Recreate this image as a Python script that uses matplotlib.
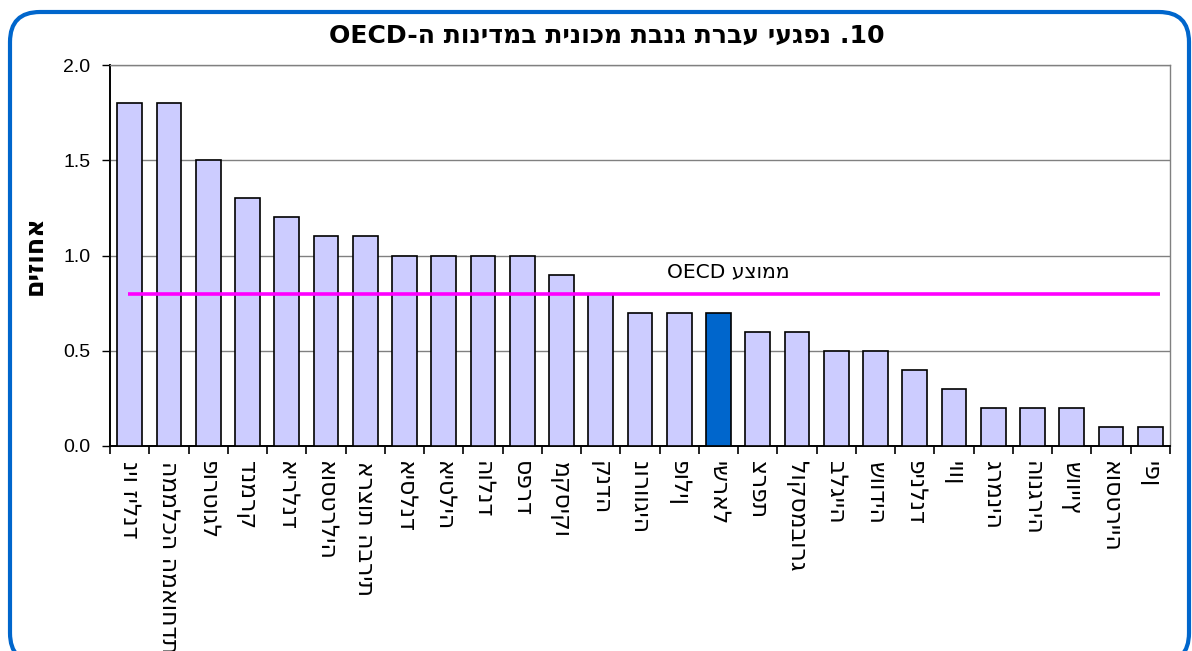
import numpy as np
import matplotlib
matplotlib.use("Agg")
import matplotlib.pyplot as plt
from matplotlib.patches import FancyBboxPatch

plt.rcParams['font.family'] = ['Liberation Sans', 'DejaVu Sans']
HEB = ['DejaVu Sans', 'Liberation Sans']

countries = ["ניו זילנד", "הממלכה המאוחדת", "פורטוגל", "דנמרק", "אירלנד", "אוסטרליה",
             "ארצות הברית", "איסלנד", "איטליה", "הולנד", "ספרד", "מקסיקו", "קנדה",
             "נורווגיה", "פולין", "ישראל", "צרפת", "לוקסמבורג", "בלגייה", "שוודיה",
             "פינלנד", "יוון", "גרמניה", "הונגריה", "שווייץ", "אוסטרייה", "יפן"]
values = [1.8, 1.8, 1.5, 1.3, 1.2, 1.1, 1.1, 1.0, 1.0, 1.0, 1.0, 0.9, 0.8,
          0.7, 0.7, 0.7, 0.6, 0.6, 0.5, 0.5, 0.4, 0.3, 0.2, 0.2, 0.2, 0.1, 0.1]
highlight = "ישראל"
oecd_avg = 0.8
yticks = [0.0, 0.5, 1.0, 1.5, 2.0]

title = "10. נפגעי עברת גנבת מכונית במדינות ה-OECD"
title_visual = "OECD-ה " + " ".join(w[::-1] for w in reversed("נפגעי עברת גנבת מכונית במדינות".split())) + " .10"
ylabel_visual = "אחוזים"[::-1]
avg_label_visual = "OECD " + "ממוצע"[::-1]

W, H = 1192, 651
fig = plt.figure(figsize=(W / 100, H / 100), dpi=100)
ax = fig.add_axes([110 / W, 1 - 446 / H, (1170 - 110) / W, (446 - 65) / H])

x = np.arange(len(countries))
colors = ["#0066CC" if c == highlight else "#CCCCFF" for c in countries]
ax.bar(x, values, width=0.63, color=colors, edgecolor="black", linewidth=1.2, zorder=3)
ax.hlines(oecd_avg, -0.05, len(countries) - 0.75, colors="#FF00FF", linewidth=2.6, zorder=4)
avg_txt = ax.text(15.24, 0.915, avg_label_visual, ha="center", va="center", fontsize=11,
                  family=HEB, zorder=5)

ax.set_xlim(-0.5, len(countries) - 0.5)
ax.set_ylim(0, 2.0)
ax.set_yticks(yticks)
ax.set_yticklabels([f"{v:.1f}" for v in yticks], fontsize=14)
ax.yaxis.grid(True, color="#808080", linewidth=1.0, zorder=0)
ax.set_axisbelow(True)
ax.tick_params(axis="y", length=6, width=1, pad=8, direction="out")

ax.set_xticks(x)
xt = ax.set_xticklabels(countries, rotation=-90, fontsize=12, va="top", ha="center", family=HEB)
ax.tick_params(axis="x", which="major", length=0, pad=11)
ax.set_xticks(np.arange(len(countries) + 1) - 0.5, minor=True)
ax.tick_params(axis="x", which="minor", length=6, width=1.2, direction="out")

for s in ["left", "bottom"]:
    ax.spines[s].set_color("black")
    ax.spines[s].set_linewidth(1.4)
for s in ["top", "right"]:
    ax.spines[s].set_color("#808080")
    ax.spines[s].set_linewidth(1.0)

ttl = fig.text(607 / W, 1 - 36 / H, title_visual, ha="center", va="center", fontsize=12.5,
               fontweight="bold", family=HEB)
ylab = fig.text(35 / W, 1 - 255 / H, ylabel_visual, ha="center", va="center", rotation=90,
                fontsize=12, fontweight="bold", family=HEB)

# fit text sizes to the reference extents (pixels)
r = fig.canvas.get_renderer()
def fit(t, target, horiz=True):
    bb = t.get_window_extent(r)
    cur = bb.width if horiz else bb.height
    t.set_fontsize(t.get_fontsize() * target / cur)

fit(ttl, 555)
fit(avg_txt, 122)
fit(ylab, 80, horiz=False)
ref = xt[countries.index("ארצות הברית")]
bb = ref.get_window_extent(r)
scale = 135 / bb.height
for t in xt:
    t.set_fontsize(t.get_fontsize() * scale)

border = FancyBboxPatch((0.10, -0.12), 11.79, 6.51, boxstyle="round,pad=0,rounding_size=0.3",
                        transform=fig.dpi_scale_trans, fill=False, edgecolor="#0066CC",
                        linewidth=3.0, clip_on=False)
fig.patches.append(border)

fig.savefig("out.png", dpi=100)
